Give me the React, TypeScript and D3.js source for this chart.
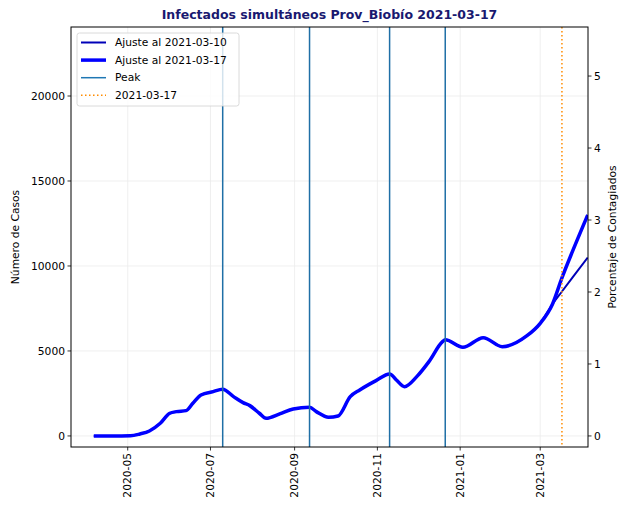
import React from "react";
import * as d3 from "d3";

const commonDates = ["2020-04-06","2020-04-20","2020-05-03","2020-05-10","2020-05-17","2020-05-25","2020-06-01","2020-06-06","2020-06-13","2020-06-18","2020-06-24","2020-07-03","2020-07-10","2020-07-18","2020-07-25","2020-07-30","2020-08-06","2020-08-11","2020-08-21","2020-08-31","2020-09-12","2020-09-17","2020-09-26","2020-10-03","2020-10-12","2020-10-19","2020-10-31","2020-11-10","2020-11-15","2020-11-21","2020-11-30","2020-12-09","2020-12-19","2020-12-21","2021-01-03","2021-01-18","2021-02-01","2021-02-19","2021-03-01","2021-03-10"];
const commonValues = [0,0,10,118,294,745,1335,1431,1490,1922,2412,2608,2745,2314,1961,1784,1335,1039,1294,1588,1686,1431,1098,1176,2314,2706,3255,3647,3294,2902,3490,4373,5549,5660,5216,5784,5255,5882,6627,7750];
const tailDates = ["2021-03-17","2021-03-25","2021-04-05"];
const tailThin = [8500,9350,10500];
const tailThick = [9300,10900,13000];
const peakDates = ["2020-07-10","2020-09-12","2020-11-10","2020-12-21"];
const todayDate = "2021-03-17";
const xTickDates = ["2020-05-01","2020-07-01","2020-09-01","2020-11-01","2021-01-01","2021-03-01"];
const leftTicks = [0,5000,10000,15000,20000];
const rightTicks = [0,1,2,3,4,5];
const population = 4235;
const legendLabels = ["Ajuste al 2021-03-10","Ajuste al 2021-03-17","Peak","2021-03-17"];

const W = 621, H = 505;
const M = { left: 71, top: 27, right: 588, bottom: 447 };
const parse = d3.utcParse("%Y-%m-%d");
const FONT = "DejaVu Sans, sans-serif";

export default function App() {
  const x = d3.scaleUtc()
    .domain([new Date(Date.UTC(2020, 2, 20, 5)), new Date(Date.UTC(2021, 3, 5, 5))])
    .range([M.left, M.right]);
  const y = d3.scaleLinear().domain([-650, 24060]).range([M.bottom, M.top]);
  const yR = d3.scaleLinear().domain([-650 / population, 24060 / population]).range([M.bottom, M.top]);

  const thin = commonDates.map((d, i) => ({ d: parse(d)!, v: commonValues[i] }))
    .concat(tailDates.map((d, i) => ({ d: parse(d)!, v: tailThin[i] })));
  const thick = commonDates.map((d, i) => ({ d: parse(d)!, v: commonValues[i] }))
    .concat(tailDates.map((d, i) => ({ d: parse(d)!, v: tailThick[i] })));

  const line = d3.line<{ d: Date; v: number }>()
    .x(p => x(p.d)).y(p => y(p.v)).curve(d3.curveMonotoneX);

  const gridColor = "#ebebeb";
  const fs = 10.7;

  return (
    <svg width={W} height={H} style={{ position: "absolute", left: 0, top: 0, background: "#fff" }} fontFamily={FONT}>
      <defs>
        <clipPath id="plot"><rect x={M.left} y={M.top} width={M.right - M.left} height={M.bottom - M.top} /></clipPath>
      </defs>
      <rect x={0} y={0} width={W} height={H} fill="#fff" />
      {/* grid */}
      {xTickDates.map(t => (
        <line key={"gx" + t} x1={x(parse(t)!)} x2={x(parse(t)!)} y1={M.top} y2={M.bottom} stroke={gridColor} strokeWidth={0.8} />
      ))}
      {leftTicks.map(t => (
        <line key={"gy" + t} x1={M.left} x2={M.right} y1={y(t)} y2={y(t)} stroke={gridColor} strokeWidth={0.8} />
      ))}
      <g clipPath="url(#plot)">
        <path d={line(thin)!} fill="none" stroke="#0000b8" strokeWidth={2} />
        <path d={line(thick)!} fill="none" stroke="#0000ff" strokeWidth={3.5} strokeLinejoin="round" />
        {peakDates.map(p => (
          <line key={p} x1={x(parse(p)!)} x2={x(parse(p)!)} y1={M.top} y2={M.bottom} stroke="#1f6fa6" strokeWidth={1.5} />
        ))}
        <line x1={x(parse(todayDate)!)} x2={x(parse(todayDate)!)} y1={M.top} y2={M.bottom} stroke="#ff8c00" strokeWidth={1.5} strokeDasharray="1.5,2.5" />
      </g>
      {/* frame */}
      <rect x={M.left} y={M.top} width={M.right - M.left} height={M.bottom - M.top} fill="none" stroke="#000" strokeWidth={1} />
      {/* left axis */}
      {leftTicks.map(t => (
        <g key={"l" + t}>
          <line x1={M.left - 3.5} x2={M.left} y1={y(t)} y2={y(t)} stroke="#000" strokeWidth={0.8} />
          <text x={M.left - 6} y={y(t)} dy="0.35em" textAnchor="end" fontSize={fs} fill="#000">{t}</text>
        </g>
      ))}
      {/* right axis */}
      {rightTicks.map(t => (
        <g key={"r" + t}>
          <line x1={M.right} x2={M.right + 3.5} y1={yR(t)} y2={yR(t)} stroke="#000" strokeWidth={0.8} />
          <text x={M.right + 6} y={yR(t)} dy="0.35em" textAnchor="start" fontSize={fs} fill="#000">{t}</text>
        </g>
      ))}
      {/* bottom axis */}
      {xTickDates.map(t => {
        const xx = x(parse(t)!);
        return (
          <g key={"b" + t}>
            <line x1={xx} x2={xx} y1={M.bottom} y2={M.bottom + 3.5} stroke="#000" strokeWidth={0.8} />
            <text transform={`translate(${xx},${M.bottom + 6}) rotate(-90)`} dy="0.35em" textAnchor="end" fontSize={fs} fill="#000">{t.slice(0, 7)}</text>
          </g>
        );
      })}
      {/* axis labels */}
      <text transform={`translate(15,${(M.top + M.bottom) / 2}) rotate(-90)`} dy="0.35em" textAnchor="middle" fontSize={fs} fill="#000">Número de Casos</text>
      <text transform={`translate(612,${(M.top + M.bottom) / 2}) rotate(-90)`} dy="0.35em" textAnchor="middle" fontSize={fs} fill="#000">Porcentaje de Contagiados</text>
      {/* title */}
      <text x={(M.left + M.right) / 2} y={15} dy="0.35em" textAnchor="middle" fontSize={12.5} fontWeight="bold" fill="#191970">Infectados simultáneos Prov_Biobío 2021-03-17</text>
      {/* legend */}
      <g>
        <rect x={77} y={33} width={162} height={73} rx={2.5} fill="#fff" fillOpacity={0.8} stroke="#d0d0d0" strokeWidth={0.8} />
        {legendLabels.map((lab, i) => {
          const yy = 42.5 + i * 17.6;
          let stroke = "#0000b8", sw = 2, dash: string | undefined = undefined;
          if (i === 1) { stroke = "#0000ff"; sw = 3.5; }
          if (i === 2) { stroke = "#1f77b4"; sw = 1.5; }
          if (i === 3) { stroke = "#ff8c00"; sw = 1.5; dash = "1.5,2.5"; }
          return (
            <g key={lab}>
              <line x1={81} x2={106} y1={yy} y2={yy} stroke={stroke} strokeWidth={sw} strokeDasharray={dash} />
              <text x={115} y={yy} dy="0.35em" fontSize={fs} fill="#000">{lab}</text>
            </g>
          );
        })}
      </g>
    </svg>
  );
}
